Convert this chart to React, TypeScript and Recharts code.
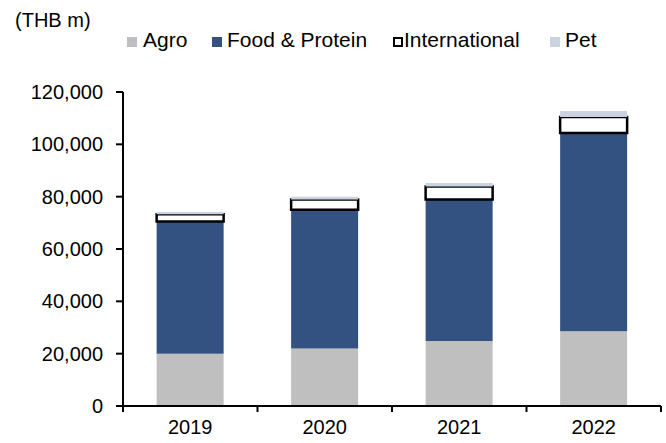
import React from 'react';
import { BarChart, Bar, XAxis, YAxis, Legend } from 'recharts';

const categories = ['2019', '2020', '2021', '2022'];
const agro = [20000, 22000, 24800, 28600];
const foodProtein = [50500, 53000, 54100, 75700];
const international = [2800, 3900, 5000, 6100];
const pet = [800, 1100, 1300, 2300];
const yTicks = [0, 20000, 40000, 60000, 80000, 100000, 120000];
const unitLabel = '(THB m)';

const data = categories.map((c, i) => ({
  year: c,
  agro: agro[i],
  food: foodProtein[i],
  intl: international[i],
  pet: pet[i],
}));

const FONT = '"Liberation Sans", Arial, Helvetica, sans-serif';

const legendLayout: Record<string, { icon: number; text: number }> = {
  Agro: { icon: 127, text: 143 },
  'Food & Protein': { icon: 212, text: 227 },
  International: { icon: 393, text: 404 },
  Pet: { icon: 550, text: 565 },
};

const renderLegend = (props: any) => {
  const payload = props.payload || [];
  return (
    <div style={{ position: 'relative', width: 666, height: 60, fontFamily: FONT }}>
      {payload.map((p: any) => {
        const pos = legendLayout[p.value] || { icon: 0, text: 14 };
        const isIntl = p.value === 'International';
        return (
          <React.Fragment key={p.value}>
            <div
              style={{
                position: 'absolute',
                left: pos.icon,
                top: 37,
                width: isIntl ? 6 : 10,
                height: isIntl ? 6 : 10,
                background: isIntl ? '#fff' : p.color,
                border: isIntl ? '2px solid #000' : 'none',
              }}
            />
            <div
              style={{
                position: 'absolute',
                left: pos.text,
                top: 28,
                fontSize: 21,
                lineHeight: '24px',
                color: '#000',
                whiteSpace: 'nowrap',
              }}
            >
              {p.value}
            </div>
          </React.Fragment>
        );
      })}
    </div>
  );
};

const XTick = (props: any) => {
  const { x, y, payload, index, visibleTicksCount } = props;
  const half = payload && typeof payload.offset === 'number' && payload.offset > 0 ? payload.offset : 67;
  const last = index === (visibleTicksCount ?? categories.length) - 1;
  return (
    <g>
      <line x1={x - half} x2={x - half} y1={y} y2={y + 6} stroke="#000" strokeWidth={2} />
      {last && <line x1={x + half} x2={x + half} y1={y} y2={y + 6} stroke="#000" strokeWidth={2} />}
      <text x={x} y={y + 28} textAnchor="middle" fontSize={20} fill="#000" fontFamily={FONT}>
        {payload.value}
      </text>
    </g>
  );
};

export default function App() {
  return (
    <div style={{ position: 'absolute', left: 0, top: 0, width: 666, height: 443, fontFamily: FONT, background: '#fff' }}>
      <div
        style={{
          position: 'absolute',
          left: 15,
          top: 9,
          fontSize: 20,
          lineHeight: '23px',
          color: '#000',
          whiteSpace: 'nowrap',
        }}
      >
        {unitLabel}
      </div>
      <BarChart
        width={666}
        height={443}
        data={data}
        margin={{ top: 92, right: 5, left: 0, bottom: 0 }}
        barCategoryGap="25%"
      >
        <Legend
          content={renderLegend}
          layout="vertical"
          align="center"
          verticalAlign="middle"
          wrapperStyle={{ position: 'absolute', top: 0, left: 0, width: 666, height: 60 }}
        />
        <YAxis
          width={123}
          domain={[0, 120000]}
          ticks={yTicks}
          interval={0}
          tickFormatter={(v: number) => v.toLocaleString('en-US')}
          tickSize={7}
          tickMargin={13}
          axisLine={{ stroke: '#000', strokeWidth: 2 }}
          tickLine={{ stroke: '#000', strokeWidth: 2 }}
          tick={{ fill: '#000', fontSize: 20, fontFamily: FONT }}
        />
        <XAxis
          dataKey="year"
          height={37}
          interval={0}
          tickSize={0}
          tickMargin={0}
          tickLine={false}
          axisLine={{ stroke: '#000', strokeWidth: 2 }}
          tick={<XTick />}
        />
        <Bar dataKey="agro" name="Agro" stackId="s" fill="#BFBFBF" isAnimationActive={false} />
        <Bar dataKey="food" name="Food & Protein" stackId="s" fill="#335281" isAnimationActive={false} />
        <Bar dataKey="intl" name="International" stackId="s" fill="#FFFFFF" stroke="#000" strokeWidth={2.5} isAnimationActive={false} />
        <Bar dataKey="pet" name="Pet" stackId="s" fill="#CBD3E2" isAnimationActive={false} />
      </BarChart>
    </div>
  );
}
